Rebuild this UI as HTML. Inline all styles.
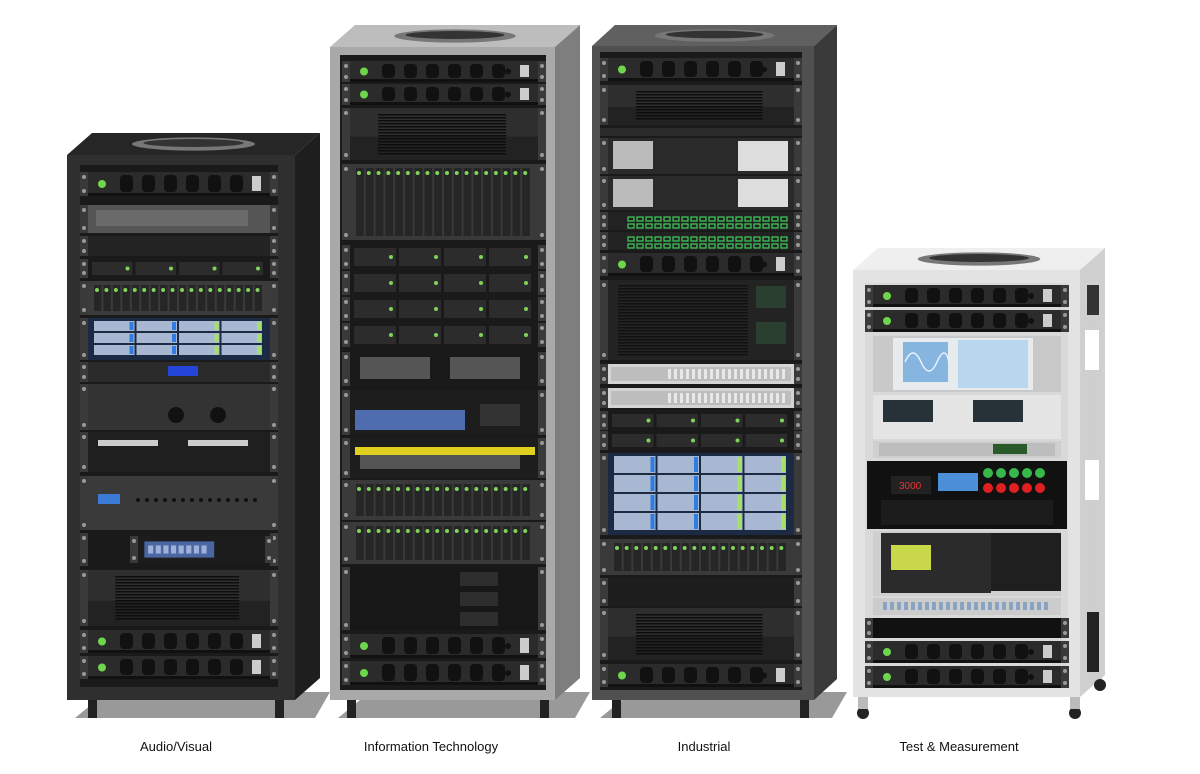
<!DOCTYPE html>
<html><head><meta charset="utf-8"><style>
html,body{margin:0;padding:0;background:#fff;width:1200px;height:774px;overflow:hidden}
.l{position:absolute;top:739px;font:13px "Liberation Sans",sans-serif;color:#111;transform:translateX(-50%);white-space:nowrap}
</style></head><body>
<svg id="s" width="1200" height="774" viewBox="0 0 1200 774" style="position:absolute;left:0;top:0"></svg>
<div class="l" style="left:176px">Audio/Visual</div>
<div class="l" style="left:431px">Information Technology</div>
<div class="l" style="left:704px">Industrial</div>
<div class="l" style="left:959px">Test &amp; Measurement</div>
<script>
var o='';
function R(x,y,w,h,f,e){o+='<rect x="'+x+'" y="'+y+'" width="'+w+'" height="'+h+'" fill="'+f+'" '+(e||'')+'/>';}
function P(pts,f){o+='<polygon points="'+pts+'" fill="'+f+'"/>';}
function C(x,y,r,f){o+='<circle cx="'+x+'" cy="'+y+'" r="'+r+'" fill="'+f+'"/>';}
function rack(fx,fw,sw,top,dy,bot,front,side,topc,ix,iw,iy,ih,inner,feet,shadow){
  P((fx+8)+','+(bot+18)+' '+(fx+fw+sw-5)+','+(bot+18)+' '+(fx+fw+sw+10)+','+(bot-8)+' '+(fx+fw)+','+(bot-8)+' '+(fx+30)+','+bot,shadow);
  P(fx+','+(top+dy)+' '+(fx+sw)+','+top+' '+(fx+fw+sw)+','+top+' '+(fx+fw)+','+(top+dy),topc);
  P((fx+fw)+','+(top+dy)+' '+(fx+fw+sw)+','+top+' '+(fx+fw+sw)+','+(bot-dy)+' '+(fx+fw)+','+bot,side);
  R(fx,top+dy,fw,bot-top-dy,front);
  o+='<ellipse cx="'+(fx+fw/2+sw/2)+'" cy="'+(top+dy/2)+'" rx="'+(fw*0.27)+'" ry="'+(dy*0.3)+'" fill="#777"/>';
  o+='<ellipse cx="'+(fx+fw/2+sw/2)+'" cy="'+(top+dy/2-1)+'" rx="'+(fw*0.22)+'" ry="'+(dy*0.18)+'" fill="#333"/>';
  R(ix,iy,iw,ih,inner);
  feet.forEach(function(fxp){R(fxp,bot,9,18,'#222');});
}
function ears(x,y,w,h){R(x-8,y,8,h,'#3a3a3a');R(x+w,y,8,h,'#3a3a3a');C(x-4,y+5,2,'#999');C(x-4,y+h-5,2,'#999');C(x+w+4,y+5,2,'#999');C(x+w+4,y+h-5,2,'#999');}
function pdu(x,y,w,h){ears(x,y,w,h);R(x,y,w,h,'#2b2b2b');R(x,y+h-3,w,3,'#111');C(x+14,y+h/2,4,'#6ed64c');
  for(var i=0;i<6;i++){R(x+32+i*22,y+3,13,h-7,'#111','rx="4"');}
  C(x+w-30,y+h/2,3,'#111');R(x+w-18,y+4,9,h-9,'#ccc');}
function vent(x,y,w,h){ears(x,y,w,h);R(x,y,w,h,'#2e2e2e');R(x,y+h*0.55,w,h*0.45,'#222');
  for(var yy=y+6;yy<y+h-6;yy+=3)R(x+w*0.15,yy,w*0.68,1.5,'#0d0d0d');}
function drives(x,y,w,h,bg){ears(x,y,w,h);R(x,y,w,h,bg||'#3b3b3b');var n=Math.floor(w/10);
  for(var i=0;i<n;i++){R(x+6+i*(w-12)/n,y+4,(w-12)/n-2,h-8,'#262626');C(x+6+i*(w-12)/n+3,y+9,2,'#7fd35b');}}
function blue(x,y,w,h,rows){ears(x,y,w,h);R(x,y,w,h,'#1d2a44');var rh=(h-6)/rows;
  for(var r=0;r<rows;r++)for(var c=0;c<4;c++){R(x+6+c*(w-12)/4,y+3+r*rh,(w-12)/4-2,rh-2,'#a9b8d2');R(x+6+c*(w-12)/4+(w-12)/4-7,y+4+r*rh,4,rh-4,c<2?'#2f7de0':'#a5e06a');}}
function black(x,y,w,h,c){ears(x,y,w,h);R(x,y,w,h,c||'#1c1c1c');}
function servers(x,y,w,h){ears(x,y,w,h);R(x,y,w,h,'#1a1a1a');for(var i=0;i<4;i++){R(x+4+i*(w-8)/4,y+3,(w-8)/4-3,h-6,'#2c2c2c');C(x+(i+1)*(w-8)/4-4,y+h/2,2,'#7fd35b');}}
function silver(x,y,w,h){ears(x,y,w,h);R(x,y,w,h,'#d4d4d4');R(x+3,y+3,w-6,h-6,'#bdbdbd');for(var i=0;i<20;i++)R(x+60+i*6,y+5,3,h-10,'#e8e8e8');}
function patch(x,y,w,h){ears(x,y,w,h);R(x,y,w,h,'#222');for(var r=0;r<2;r++)for(var i=0;i<18;i++)R(x+20+i*9,y+5+r*(h/2-2),6,4,'none','stroke="#3fcf5a" stroke-width="1.2"');}
function sw(x,y,w,h){ears(x,y,w,h);R(x,y,w,h,'#1c1c1c');R(x+w*0.05,y+h*0.2,w*0.55,h*0.6,'#4a67a3');for(var i=0;i<8;i++)R(x+w*0.08+i*w*0.06,y+h*0.35,w*0.04,h*0.3,'#9fb1d8');}

rack(67,228,25,133,22,700,'#2f2f2f','#1e1e1e','#262626',80,198,165,522,'#1a1a1a',[88,275],'#999');
var X=88,W=182;
pdu(X,172,W,24);black(X,205,W,28,'#555');R(X+8,210,W-30,16,'#6a6a6a');black(X,236,W,20,'#232323');
servers(X,259,W,19);drives(X,281,W,34);blue(X,318,W,42,3);black(X,362,W,20,'#2a2a2a');R(X+80,366,30,10,'#2346d8');
black(X,384,W,46,'#333');C(X+88,415,8,'#111');C(X+130,415,8,'#111');
black(X,432,W,40,'#1f1f1f');R(X+10,440,60,6,'#ccc');R(X+100,440,60,6,'#ccc');
black(X,476,W,54,'#3a3a3a');R(X+10,494,22,10,'#3a7bd5');for(var i=0;i<14;i++)C(X+50+i*9,500,2,'#111');
black(X,533,W,33,'#1a1a1a');sw(X+50,536,W-55,27);
vent(X,570,W,56);pdu(X,630,W,23);pdu(X,656,W,23);

rack(330,225,25,25,22,700,'#a9a9a9','#7e7e7e','#bdbdbd',340,206,55,635,'#1a1a1a',[347,540],'#999');
X=350;W=188;
pdu(X,61,W,21);pdu(X,84,W,21);vent(X,108,W,52);drives(X,164,W,76,'#393939');
for(var k=0;k<4;k++)servers(X,245+k*26,W,24);
black(X,352,W,34,'#1a1a1a');R(X+10,357,70,22,'#555');R(X+100,357,70,22,'#555');
black(X,390,W,45,'#1d1d1d');R(X+5,410,110,20,'#4d6db0');R(X+130,404,40,22,'#333');
black(X,438,W,40,'#1d1d1d');R(X+5,447,180,8,'#e0d020');R(X+10,455,160,14,'#555');
drives(X,480,W,40,'#3a3a3a');drives(X,522,W,42,'#3a3a3a');
black(X,567,W,63,'#171717');R(X+110,572,38,14,'#2d2d2d');R(X+110,592,38,14,'#2d2d2d');R(X+110,612,38,14,'#2d2d2d');
pdu(X,634,W,24);pdu(X,661,W,24);

rack(592,222,23,25,21,700,'#505050','#3a3a3a','#606060',600,202,52,638,'#1a1a1a',[612,800],'#999');
X=608;W=186;
pdu(X,58,W,23);vent(X,85,W,40);R(600,128,202,8,'#2a2a2a');
black(X,138,W,36,'#2a2a2a');R(X+130,141,50,30,'#ddd');R(X+5,141,40,28,'#bbb');
black(X,176,W,34,'#2a2a2a');R(X+130,179,50,28,'#ddd');R(X+5,179,40,28,'#bbb');
patch(X,212,W,18);patch(X,232,W,18);pdu(X,253,W,23);
black(X,280,W,80,'#232323');for(var yy=285;yy<355;yy+=3)R(X+10,yy,130,1.5,'#111');R(X+148,286,30,22,'#2b3f30');R(X+148,322,30,22,'#2b3f30');
silver(X,364,W,20);silver(X,388,W,20);servers(X,411,W,19);servers(X,431,W,19);blue(X,453,W,82,4);
drives(X,539,W,36,'#3a3a3a');black(X,578,W,28,'#1d1d1d');vent(X,608,W,52);pdu(X,664,W,23);

rack(853,227,25,248,22,697,'#e3e3e3','#d0d0d0','#efefef',865,203,283,405,'#d9d9d9',[],'#ffffff');
R(1082,300,20,380,'#cfcfcf');R(1085,330,14,40,'#fff');R(1085,460,14,40,'#fff');R(1087,285,12,30,'#333');R(1087,612,12,60,'#222');
C(863,713,6,'#222');C(1075,713,6,'#222');C(1100,685,6,'#222');R(858,697,10,12,'#bbb');R(1070,697,10,12,'#bbb');
X=873;W=188;
pdu(X,285,W,22);pdu(X,310,W,22);
R(X,336,W,56,'#c9c9c9');R(X+20,338,140,52,'#e7ebee');R(X+30,342,45,40,'#86b5df');R(X+85,340,70,48,'#b9d6ef');
o+='<path d="M'+(X+32)+' 362 q8 -18 16 0 t16 0 t12 0" stroke="#eaf3fb" fill="none" stroke-width="1.5"/>';
R(X,395,W,44,'#e5e5e5');R(X+10,400,50,22,'#263238');R(X+100,400,50,22,'#263238');
R(X,441,W,17,'#cfcfcf');R(X+6,443,W-12,13,'#bdbdbd');R(X+120,444,34,10,'#2a5a2a');
R(X-6,461,W+12,68,'#111');R(X+18,476,40,18,'#222');o+='<text x="'+(X+26)+'" y="489" font-family="Liberation Sans" font-size="10" fill="#e33">3000</text>';
R(X+65,473,40,18,'#4d8ed9');for(var i=0;i<5;i++){C(X+115+i*13,473,5,'#38b84a');C(X+115+i*13,488,5,'#e02020');}
R(X+8,500,W-16,25,'#1c1c1c');
R(X,531,W,65,'#cfcfcf');R(X+8,533,110,60,'#2b2b2b');R(X+18,545,40,25,'#c8d84a');R(X+118,533,70,58,'#1f1f1f');
R(X,598,W,17,'#cccccc');for(var i=0;i<24;i++)R(X+10+i*7,602,4,8,'#8aa3c0');
black(X,618,W,20,'#111');pdu(X,641,W,22);pdu(X,666,W,22);

document.getElementById('s').innerHTML=o;
</script>
</body></html>
